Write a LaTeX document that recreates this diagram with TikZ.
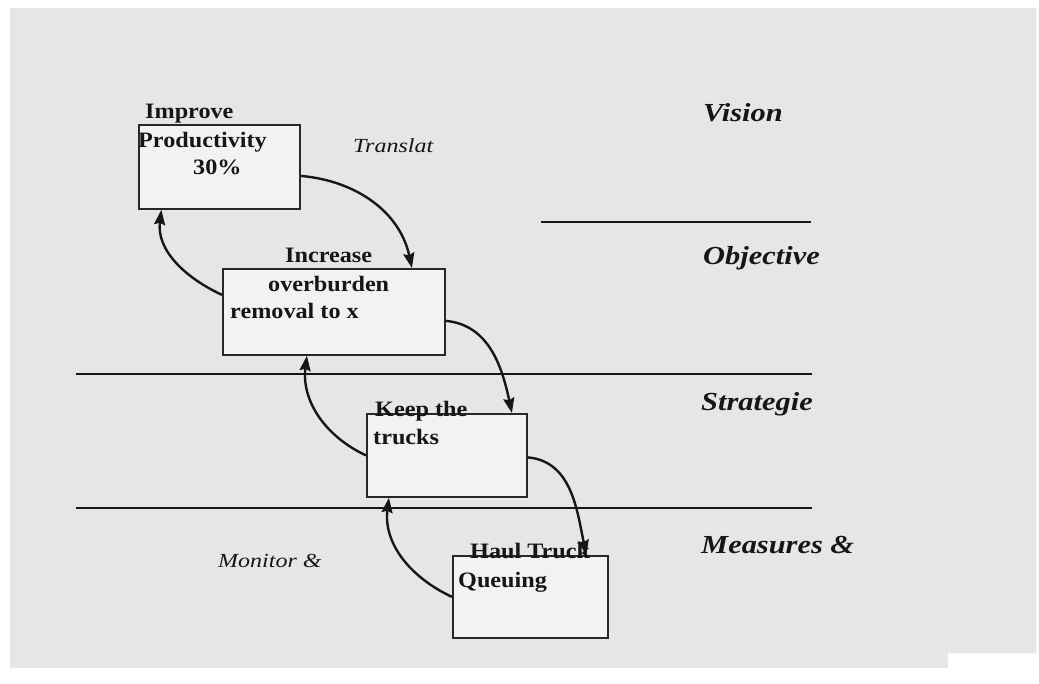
\documentclass[tikz,border=0pt]{standalone}
\usepackage{fontspec}
\setmainfont{Liberation Serif}
\newfontfamily\boxfont{Liberation Serif}[FakeStretch=1.1]
\newfontfamily\lblfont{Liberation Serif}[FakeStretch=1.17]
\newfontfamily\itfont{Liberation Serif}[FakeStretch=1.2]
\usetikzlibrary{arrows.meta}
\definecolor{bg}{RGB}{230,230,230}
\definecolor{boxfill}{RGB}{242,242,242}
\definecolor{boxline}{RGB}{40,40,40}
\definecolor{ink}{RGB}{22,22,22}
\tikzset{
  box/.style={draw=boxline, line width=1.8pt, fill=boxfill, inner sep=0pt, anchor=north west},
  btext/.style={anchor=base west, inner sep=0pt, text=ink, font=\boxfont\bfseries\fontsize{22}{26}\selectfont},
  ltext/.style={anchor=base west, inner sep=0pt, text=ink, font=\lblfont\bfseries\itshape\fontsize{26}{30}\selectfont},
  itext/.style={anchor=base west, inner sep=0pt, text=ink, font=\itfont\itshape\fontsize{20}{24}\selectfont},
  sepline/.style={draw=ink, line width=1.6pt},
  conn/.style={draw=ink, line width=2.4pt, -{Stealth[length=15pt,width=11pt,inset=2pt]}}
}
\begin{document}
\begin{tikzpicture}[x=1pt,y=1pt]
\useasboundingbox (0,0) rectangle (1039,-684);
\fill[white] (0,0) rectangle (1039,-684);
\fill[bg] (10,-8) -- (1036,-8) -- (1036,-653) -- (948,-653) -- (948,-668) -- (10,-668) -- cycle;

% separator lines
\draw[sepline] (541,-222) -- (811,-222);
\draw[sepline] (76,-374) -- (812,-374);
\draw[sepline] (76,-508) -- (812,-508);

% boxes
\node[box, minimum width=161pt, minimum height=84pt] (b1) at (138,-124) {};
\node[box, minimum width=222pt, minimum height=86pt] (b2) at (222,-268) {};
\node[box, minimum width=160pt, minimum height=83pt] (b3) at (366,-413) {};
\node[box, minimum width=155pt, minimum height=82pt] (b4) at (452,-555) {};

% box texts
\node[btext] (t1a) at (145,-119) {Improve};
\node[btext] (t1b) at (138,-148) {Productivity};
\node[btext] (t1c) at (193,-175) {30\%};
\node[btext] (t2a) at (285,-263) {Increase};
\node[btext] (t2b) at (268,-292) {overburden};
\node[btext] (t2c) at (230,-319) {removal to x};
\node[btext] (t3a) at (375,-417) {Keep the};
\node[btext] (t3b) at (373,-445) {trucks};
\node[btext] (t4a) at (470,-558) {Haul Truck};
\node[btext] (t4b) at (458,-587) {Queuing};

% level labels
\node[ltext] (lv) at (703,-122) {Vision};
\node[ltext] (lo) at (703,-265) {Objective};
\node[ltext] (ls) at (701,-410) {Strategie};
\node[ltext] (lm) at (701,-553) {Measures \&};

% side labels
\node[itext] (tr) at (353,-153) {Translat};
\node[itext] (mo) at (218,-567) {Monitor \&};

% connectors: translate down
\draw[conn] ([yshift=-9pt]b1.east) to[out=-5,in=102] ([xshift=78pt]b2.north);
\draw[conn] ([yshift=-9pt]b2.east) to[out=-5,in=102] ([xshift=65pt]b3.north);
\draw[conn] ([yshift=-2pt]b3.east) to[out=-5,in=102] ([xshift=56pt]b4.north);
% connectors: monitor up
\draw[conn] ([yshift=17pt]b2.west) to[out=155,in=-97] ([xshift=-58pt]b1.south);
\draw[conn] (b3.west) to[out=155,in=-97] ([xshift=-27pt]b2.south);
\draw[conn] (b4.west) to[out=155,in=-97] ([xshift=-58pt]b3.south);
\end{tikzpicture}
\end{document}
